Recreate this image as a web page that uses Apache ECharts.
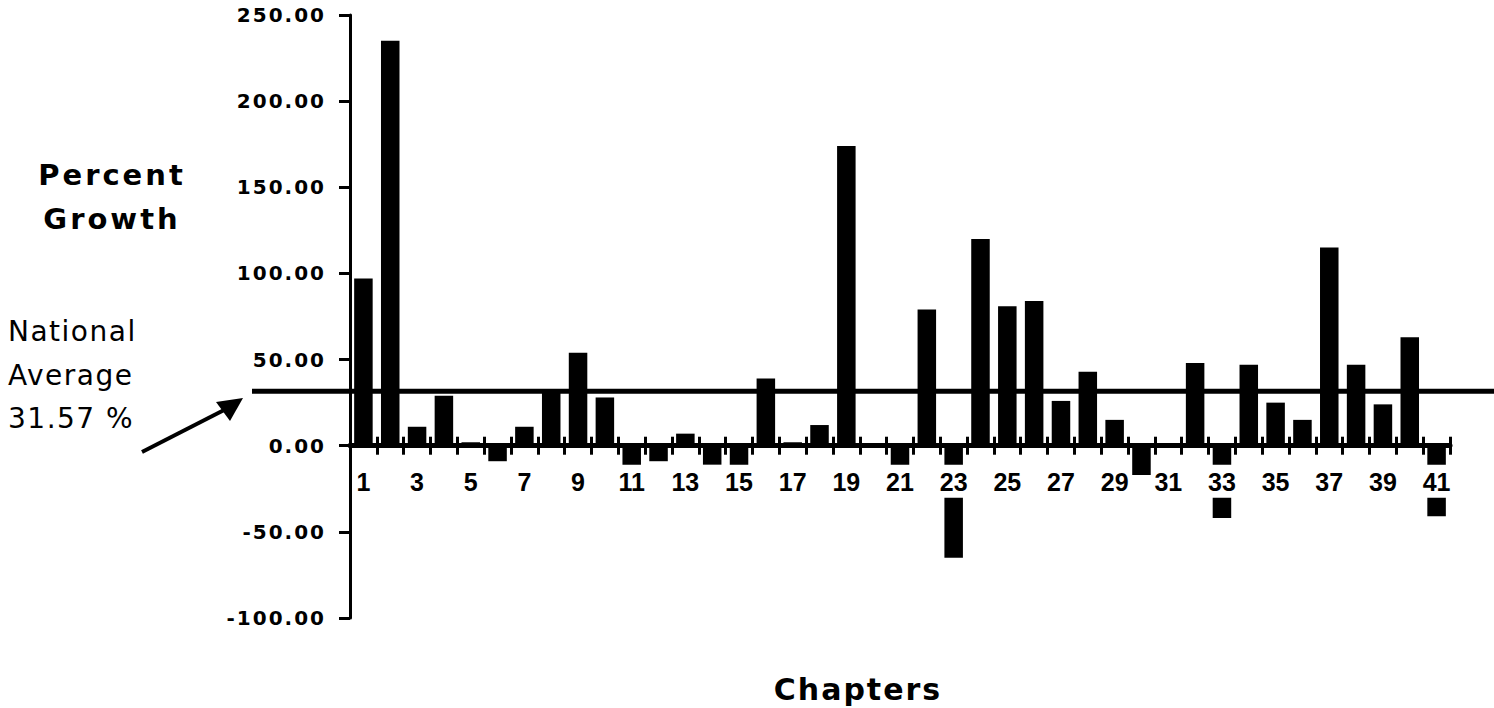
<!DOCTYPE html>
<html>
<head>
<meta charset="utf-8">
<script src="https://cdn.jsdelivr.net/npm/echarts@6/dist/echarts.min.js"></script>
<style>
  html, body { margin: 0; padding: 0; background: #fff; }
  #chart { width: 1494px; height: 708px; }
  #chart text[style*="20px"] { letter-spacing: 2px; }
  #chart text[style*="29px"] { letter-spacing: 3px; }
  #chart text[style*="28px"] { letter-spacing: 1.5px; }
  #chart text[style*="30px"] { letter-spacing: 2px; }
</style>
</head>
<body>
<div id="chart"></div>
<script>
// Chapters (x categories)
const chapters = ['1','2','3','4','5','6','7','8','9','10','11','12','13','14','15','16','17','18','19','20',
  '21','22','23','24','25','26','27','28','29','30','31','32','33','34','35','36','37','38','39','40','41'];
// Percent growth per chapter
const growth = [97, 235, 11, 29, 2, -9, 11, 32, 54, 28, -12, -9, 7, -11, -12, 39, 2, 12, 174, 1,
  -12, 79, -65, 120, 81, 84, 26, 43, 15, -17, 0, 48, -42, 47, 25, 15, 115, 47, 24, 63, -41];
// National average
const nationalAverage = 31.57;
// Y axis range / ticks
const yMin = -100, yMax = 250, yStep = 50;

const W = 1494, H = 708, gridTop = 15, gridBottom = 90;
const gridH = H - gridTop - gridBottom;
// place the category axis on the zero line (inward offset from the grid bottom)
const zeroOffset = -gridH * (0 - yMin) / (yMax - yMin);

const chart = echarts.init(document.getElementById('chart'), null, { renderer: 'svg' });

const black = '#000';
const option = {
  backgroundColor: '#fff',
  animation: false,
  title: [
    {
      text: 'Percent\nGrowth', left: 112, top: 197, padding: 0,
      textAlign: 'center', textVerticalAlign: 'middle',
      textStyle: { fontFamily: 'DejaVu Sans', fontWeight: 'bold', fontSize: 29, lineHeight: 44, color: black }
    },
    {
      text: 'National\nAverage\n' + nationalAverage.toFixed(2) + ' %', left: 8, top: 375, padding: 0,
      textAlign: 'left', textVerticalAlign: 'middle',
      textStyle: { fontFamily: 'DejaVu Sans', fontWeight: 'normal', fontSize: 28, lineHeight: 43.5, color: black }
    },
    {
      text: 'Chapters', left: 858, top: 689, padding: 0,
      textAlign: 'center', textVerticalAlign: 'middle',
      textStyle: { fontFamily: 'DejaVu Sans', fontWeight: 'bold', fontSize: 30, color: black }
    }
  ],
  grid: [
    { left: 350, right: 44, top: gridTop, bottom: gridBottom },
    { left: 252, right: 0, top: gridTop, bottom: gridBottom }
  ],
  xAxis: [
    {
      type: 'category', data: chapters, gridIndex: 0, position: 'bottom', offset: zeroOffset, z: 5,
      boundaryGap: true,
      axisLine: { show: true, onZero: false, lineStyle: { color: black, width: 5 } },
      axisTick: { show: true, interval: 0, length: 9, inside: false, lineStyle: { color: black, width: 3 } },
      axisLabel: {
        show: true, interval: 1, margin: 19,
        fontFamily: 'Liberation Sans', fontWeight: 'bold', fontSize: 25, color: black,
        lineHeight: 22, backgroundColor: '#fff', padding: [6, 3, 5, 3]
      },
      splitLine: { show: false }
    },
    {
      type: 'category', data: chapters, gridIndex: 0, position: 'bottom', offset: zeroOffset, z: 5,
      boundaryGap: true,
      axisLine: { show: false, onZero: false },
      axisTick: { show: true, interval: 0, length: 9, inside: true, lineStyle: { color: black, width: 3 } },
      axisLabel: { show: false },
      splitLine: { show: false }
    },
    { type: 'value', gridIndex: 1, min: 0, max: 1, show: false }
  ],
  yAxis: [
    {
      type: 'value', gridIndex: 0, min: yMin, max: yMax, interval: yStep, z: 6,
      axisLine: { show: true, onZero: false, lineStyle: { color: black, width: 3 } },
      axisTick: { show: true, length: 11, inside: false, lineStyle: { color: black, width: 3 } },
      axisLabel: {
        margin: 24, fontFamily: 'DejaVu Sans', fontWeight: 'bold', fontSize: 20, color: black,
        formatter: v => v.toFixed(2)
      },
      splitLine: { show: false }
    },
    { type: 'value', gridIndex: 1, min: yMin, max: yMax, show: false }
  ],
  series: [
    {
      type: 'bar', xAxisIndex: 0, yAxisIndex: 0, data: growth,
      barCategoryGap: '31%',
      itemStyle: { color: black },
      silent: true
    },
    {
      type: 'line', xAxisIndex: 2, yAxisIndex: 1,
      data: [[0, nationalAverage], [1, nationalAverage]],
      symbol: 'none', silent: true,
      lineStyle: { color: black, width: 5 }
    }
  ],
  graphic: [
    {
      type: 'line', silent: true,
      shape: { x1: 142, y1: 452, x2: 228, y2: 408 },
      style: { stroke: black, lineWidth: 4 }
    },
    {
      type: 'polygon', silent: true,
      shape: { points: [[243, 398], [216, 402], [230, 421]] },
      style: { fill: black }
    }
  ]
};
chart.setOption(option);
</script>
</body>
</html>
